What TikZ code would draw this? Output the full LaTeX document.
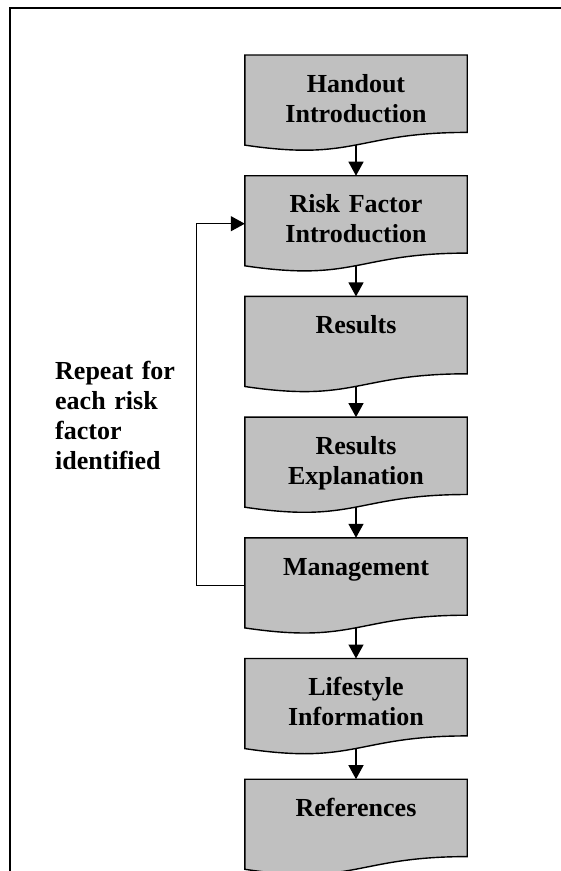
\documentclass[tikz,border=0pt]{standalone}
\usepackage{fontspec}
\setmainfont{Liberation Serif}
\usetikzlibrary{arrows.meta}
\usetikzlibrary{backgrounds}
\usetikzlibrary{calc}
\usetikzlibrary{positioning}
\definecolor{boxgrey}{RGB}{192,192,192}

\begin{document}
\begin{tikzpicture}[
		x=1pt,y=1pt,
		>={Triangle[length=14pt,width=15pt]},
		node distance=43.3pt,
		docbox/.style={rectangle,anchor=north,inner xsep=6pt,inner ysep=0pt,minimum width=222pt,text width=210pt,align=center,text height=37pt,text depth=40pt,font=\bfseries\fontsize{26}{30}\selectfont},
		note/.style={rectangle,anchor=north west,inner sep=0pt,text width=140pt,align=left,text height=17.5pt,font=\bfseries\fontsize{26}{30}\selectfont},
		flow/.style={->,line width=1.3pt}
	]
		\useasboundingbox (0,0) rectangle (561,-871);
		\draw [line width=1.8pt] (10,-880) -- (10,-8) -- (570,-8);

		\node [docbox] (handout) at (356,-55) {Handout\\Introduction};
		\node [docbox,below=of handout] (risk) {Risk Factor\\Introduction};
		\node [docbox,below=of risk] (results) {Results};
		\node [docbox,below=of results] (explain) {Results\\Explanation};
		\node [docbox,below=of explain] (manage) {Management};
		\node [docbox,below=of manage] (lifestyle) {Lifestyle\\Information};
		\node [docbox,below=of lifestyle] (refs) {References};

		\node [note] (repeatnote) at (55,-361.5) {Repeat for\\each risk\\factor\\identified};

		% document shapes behind the text
		\begin{scope}[on background layer]
			\foreach \n in {handout,risk,results,explain,manage,lifestyle,refs}
				\filldraw [fill=boxgrey,line width=1.4pt]
					(\n.north west) -- (\n.north east) -- (\n.south east)
					.. controls (\n.south) and ($(\n.south)+(0,-29.3)$)
					.. ($(\n.south west)+(0,-12.7)$) -- cycle;
		\end{scope}

		\foreach \a/\b in {handout/risk,risk/results,results/explain,explain/manage,manage/lifestyle,lifestyle/refs}
			\draw [flow] ($(\a.south)+(0,-12.6)$) -- (\b.north);

		\draw [flow] ($(manage.north west)+(0,-48)$)
			-- ++(-48,0)
			|- ($(risk.north west)+(0,-48)$);
	\end{tikzpicture}
\end{document}
